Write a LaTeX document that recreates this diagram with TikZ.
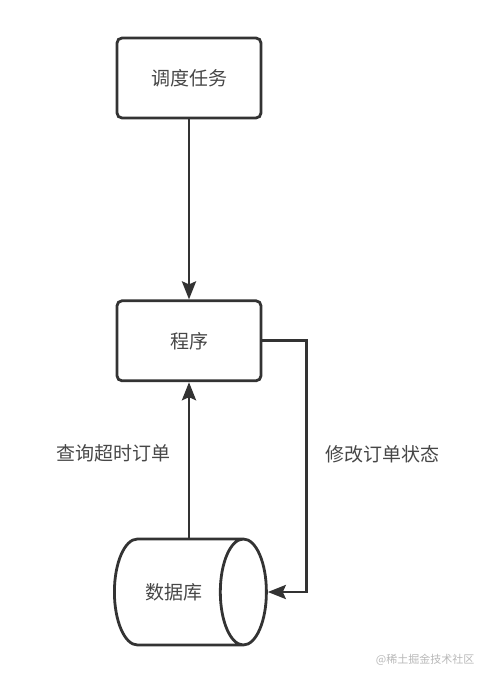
\documentclass[tikz,border=0pt]{standalone}
\usepackage{fontspec}
\newfontfamily\cjk{Noto Sans CJK SC}
\usetikzlibrary{positioning,arrows.meta,shapes.geometric}
\definecolor{ink}{HTML}{333333}

\begin{document}
\begin{tikzpicture}[
  x=1pt, y=-1pt,
  font=\cjk\fontsize{19}{22}\selectfont,
  text=ink!90,
  line width=2.8pt,
  task/.style = {draw=ink, rounded corners=5pt, fill=white,
                  minimum width=144pt, minimum height=80pt},
  store/.style = {draw=ink, cylinder, aspect=1.9, fill=white,
                  minimum width=106pt, minimum height=152pt},
  flow/.style = {draw=ink, -{Stealth[length=18pt, width=14pt, inset=3pt]}},
  lbl/.style = {font=\cjk\fontsize{19}{22}\selectfont, inner sep=0pt}
]
\useasboundingbox (0,0) rectangle (493,682);

% ---------- nodes -----------------------------------------------------------
\node[task] (sched) at (189,78) {调度任务};
\node[task, below=180pt of sched] (prog) {程序};
\node[store, anchor=west] (db) at (113,592) {数据库};

% ---------- connectors ------------------------------------------------------
\draw[flow] (sched) -- (prog);
\draw[flow] (db.north -| prog) -- (prog)
  node[lbl, pos=0.54, left=17pt] (q) {查询超时订单};
\draw[flow] (prog.east) -- ++(44,0) |- (db.east)
  node[lbl, pos=0.225, right=18pt] (u) {修改订单状态};

% ---------- watermark -------------------------------------------------------
\node[font=\cjk\fontsize{11}{13}\selectfont, text=black!28, anchor=east]
  (wm) at (479,660) {@稀土掘金技术社区};

\end{tikzpicture}
\end{document}
